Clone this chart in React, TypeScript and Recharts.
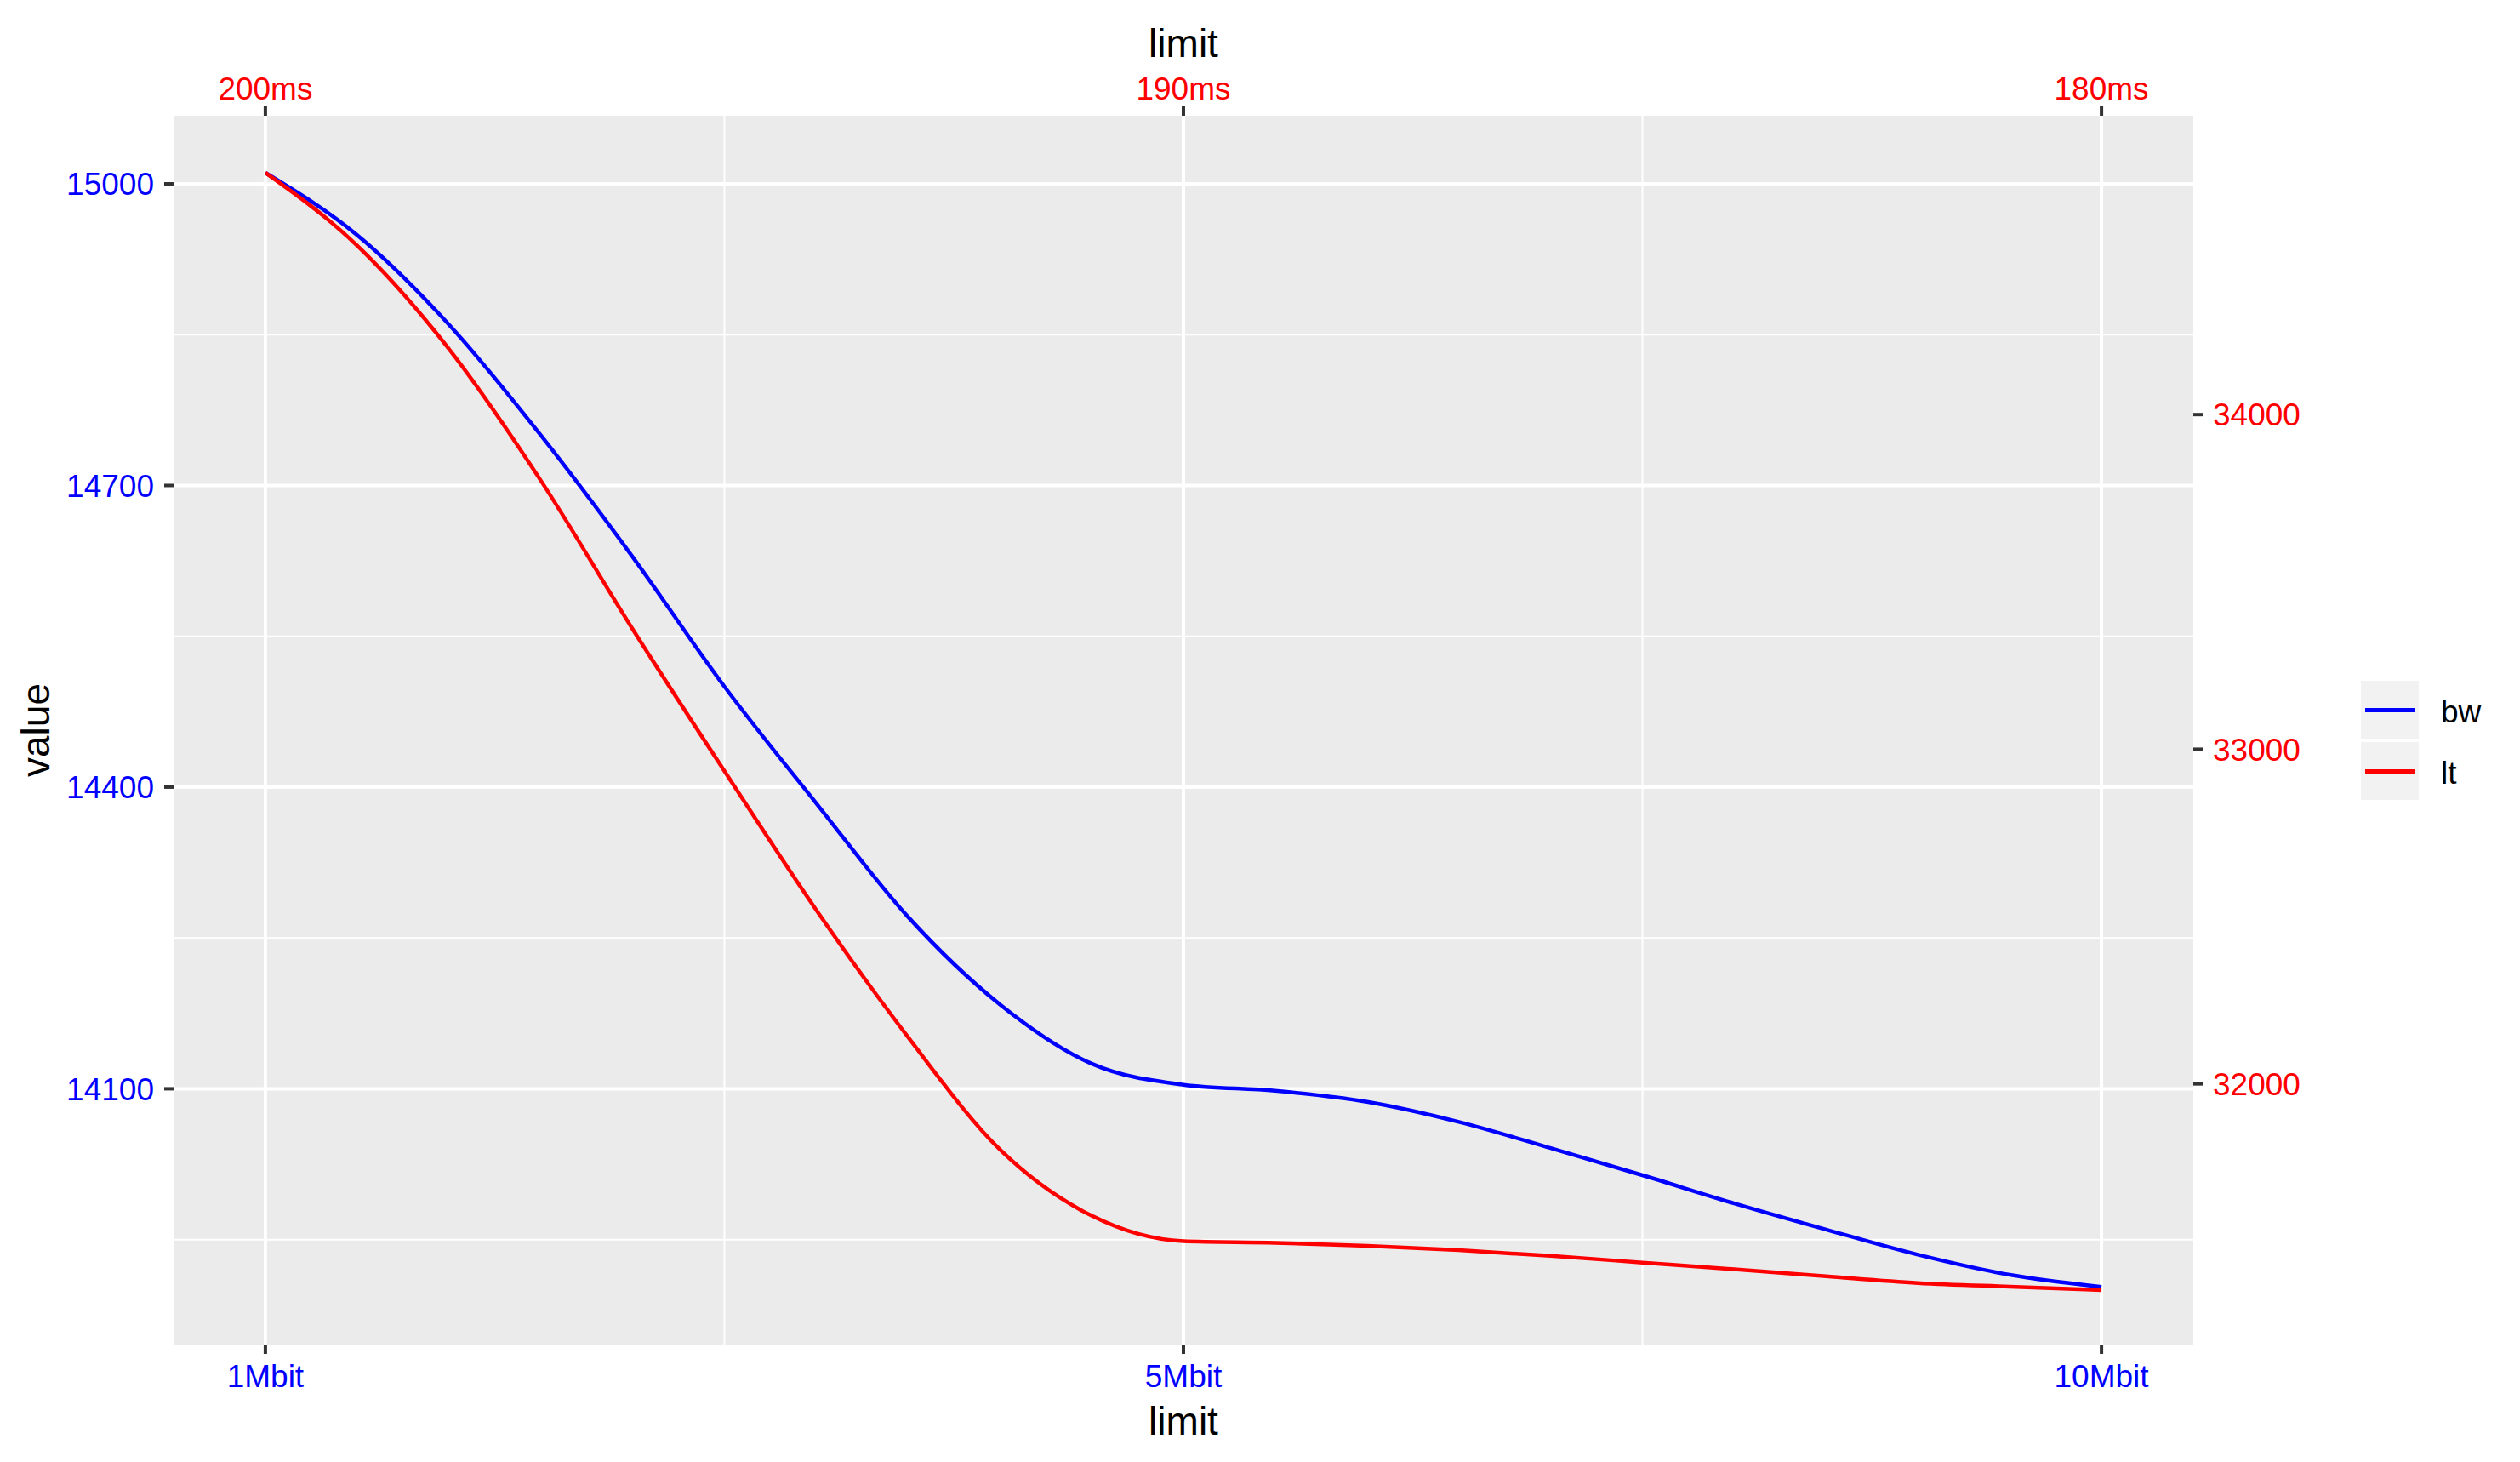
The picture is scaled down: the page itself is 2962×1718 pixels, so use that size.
import { LineChart, Line, XAxis, YAxis, CartesianGrid } from 'recharts'

// position of each sample along the shared "limit" axis (1 = 1Mbit/200ms, 2 = 5Mbit/190ms, 3 = 10Mbit/180ms)
const limitPos = [1.0, 1.1, 1.2, 1.3, 1.4, 1.5, 1.6, 1.7, 1.8, 1.9, 2.0, 2.1, 2.2, 2.3, 2.4, 2.5, 2.6, 2.7, 2.8, 2.9, 3.0]
const bwValues = [15011, 14949, 14860, 14750, 14629, 14500, 14384, 14271, 14184, 14125, 14104, 14098, 14087, 14067, 14041, 14014, 13986, 13960, 13935, 13915, 13903]
const ltValues = [34723, 34505, 34196, 33803, 33359, 32935, 32520, 32140, 31804, 31606, 31530, 31525, 31516, 31503, 31486, 31466, 31446, 31425, 31405, 31394, 31384]

const limitTicks = [1, 2, 3]
const limitMinor = [1.5, 2.5]
const bandwidthLabels = ['1Mbit', '5Mbit', '10Mbit']
const latencyLabels = ['200ms', '190ms', '180ms']
const bwTicks = [14100, 14400, 14700, 15000]
const bwMinor = [13950, 14250, 14550, 14850]
const ltTicks = [32000, 33000, 34000]

const series = [
  { key: 'bw', label: 'bw', color: '#0000FF' },
  { key: 'lt', label: 'lt', color: '#FF0000' },
]

const data = limitPos.map((t, i) => ({ t, bw: bwValues[i], lt: ltValues[i] }))

const FONT = '"Liberation Sans", Arial, Helvetica, sans-serif'
const TICK_SIZE = 37
const tickLine = { stroke: '#333333', strokeWidth: 4 }

const title = (text: string, cx: number, cy: number, rotate = 0) => (
  <div
    style={{
      position: 'absolute',
      left: cx,
      top: cy,
      transform: `translate(-50%, -50%) rotate(${rotate}deg)`,
      fontSize: 46,
      lineHeight: 1,
      whiteSpace: 'nowrap',
      color: '#000',
    }}
  >
    {text}
  </div>
)

export default function App() {
  return (
    <div style={{ position: 'absolute', left: 0, top: 0, width: 2962, height: 1718, background: '#fff', fontFamily: FONT }}>
      <LineChart width={2962} height={1718} data={data} margin={{ top: 0, right: 0, bottom: 0, left: 0 }}>
        <CartesianGrid
          xAxisId="bottom"
          yAxisId="bw"
          fill="#EBEBEB"
          stroke="#FFFFFF"
          strokeWidth={2}
          horizontalValues={bwMinor}
          verticalValues={limitMinor}
        />
        <CartesianGrid
          xAxisId="bottom"
          yAxisId="bw"
          stroke="#FFFFFF"
          strokeWidth={4}
          horizontalValues={bwTicks}
          verticalValues={limitTicks}
        />
        <XAxis
          xAxisId="bottom"
          dataKey="t"
          type="number"
          domain={[0.9, 3.1]}
          allowDataOverflow
          ticks={limitTicks}
          interval={0}
          tickFormatter={(v: number) => bandwidthLabels[limitTicks.indexOf(v)]}
          height={138}
          axisLine={false}
          tickLine={tickLine}
          tickSize={11}
          tickMargin={13}
          tick={{ fill: '#0000FF', fontSize: TICK_SIZE, fontFamily: FONT }}
        />
        <XAxis
          xAxisId="top"
          orientation="top"
          dataKey="t"
          type="number"
          domain={[0.9, 3.1]}
          allowDataOverflow
          ticks={limitTicks}
          interval={0}
          tickFormatter={(v: number) => latencyLabels[limitTicks.indexOf(v)]}
          height={136}
          axisLine={false}
          tickLine={tickLine}
          tickSize={11}
          tickMargin={8}
          tick={{ fill: '#FF0000', fontSize: TICK_SIZE, fontFamily: FONT }}
        />
        <YAxis
          yAxisId="bw"
          type="number"
          domain={[13845.6, 15067.7]}
          allowDataOverflow
          ticks={bwTicks}
          interval={0}
          width={204}
          axisLine={false}
          tickLine={tickLine}
          tickSize={11}
          tickMargin={12}
          tick={{ fill: '#0000FF', fontSize: TICK_SIZE, fontFamily: FONT }}
        />
        <YAxis
          yAxisId="lt"
          orientation="right"
          type="number"
          domain={[31221, 34893]}
          allowDataOverflow
          ticks={ltTicks}
          interval={0}
          width={384}
          axisLine={false}
          tickLine={tickLine}
          tickSize={11}
          tickMargin={12}
          tick={{ fill: '#FF0000', fontSize: TICK_SIZE, fontFamily: FONT, textAnchor: 'start' }}
        />
        <Line
          xAxisId="bottom"
          yAxisId="bw"
          type="monotone"
          dataKey="bw"
          stroke={series[0].color}
          strokeWidth={4.5}
          dot={false}
          isAnimationActive={false}
        />
        <Line
          xAxisId="top"
          yAxisId="lt"
          type="monotone"
          dataKey="lt"
          stroke={series[1].color}
          strokeWidth={4.5}
          dot={false}
          isAnimationActive={false}
        />
      </LineChart>

      {title('limit', 1391, 51)}
      {title('limit', 1391, 1670)}
      {title('value', 42, 858, -90)}

      {series.map((s, i) => (
        <div key={s.key}>
          <div style={{ position: 'absolute', left: 2775, top: 800 + i * 72, width: 68, height: 68, background: '#F2F2F2' }}>
            <div style={{ position: 'absolute', left: 5, right: 5, top: 32, height: 4.5, background: s.color }} />
          </div>
          <div
            style={{
              position: 'absolute',
              left: 2869,
              top: 836 + i * 72,
              transform: 'translateY(-50%)',
              fontSize: TICK_SIZE,
              lineHeight: 1,
              color: '#000',
            }}
          >
            {s.label}
          </div>
        </div>
      ))}
    </div>
  )
}
